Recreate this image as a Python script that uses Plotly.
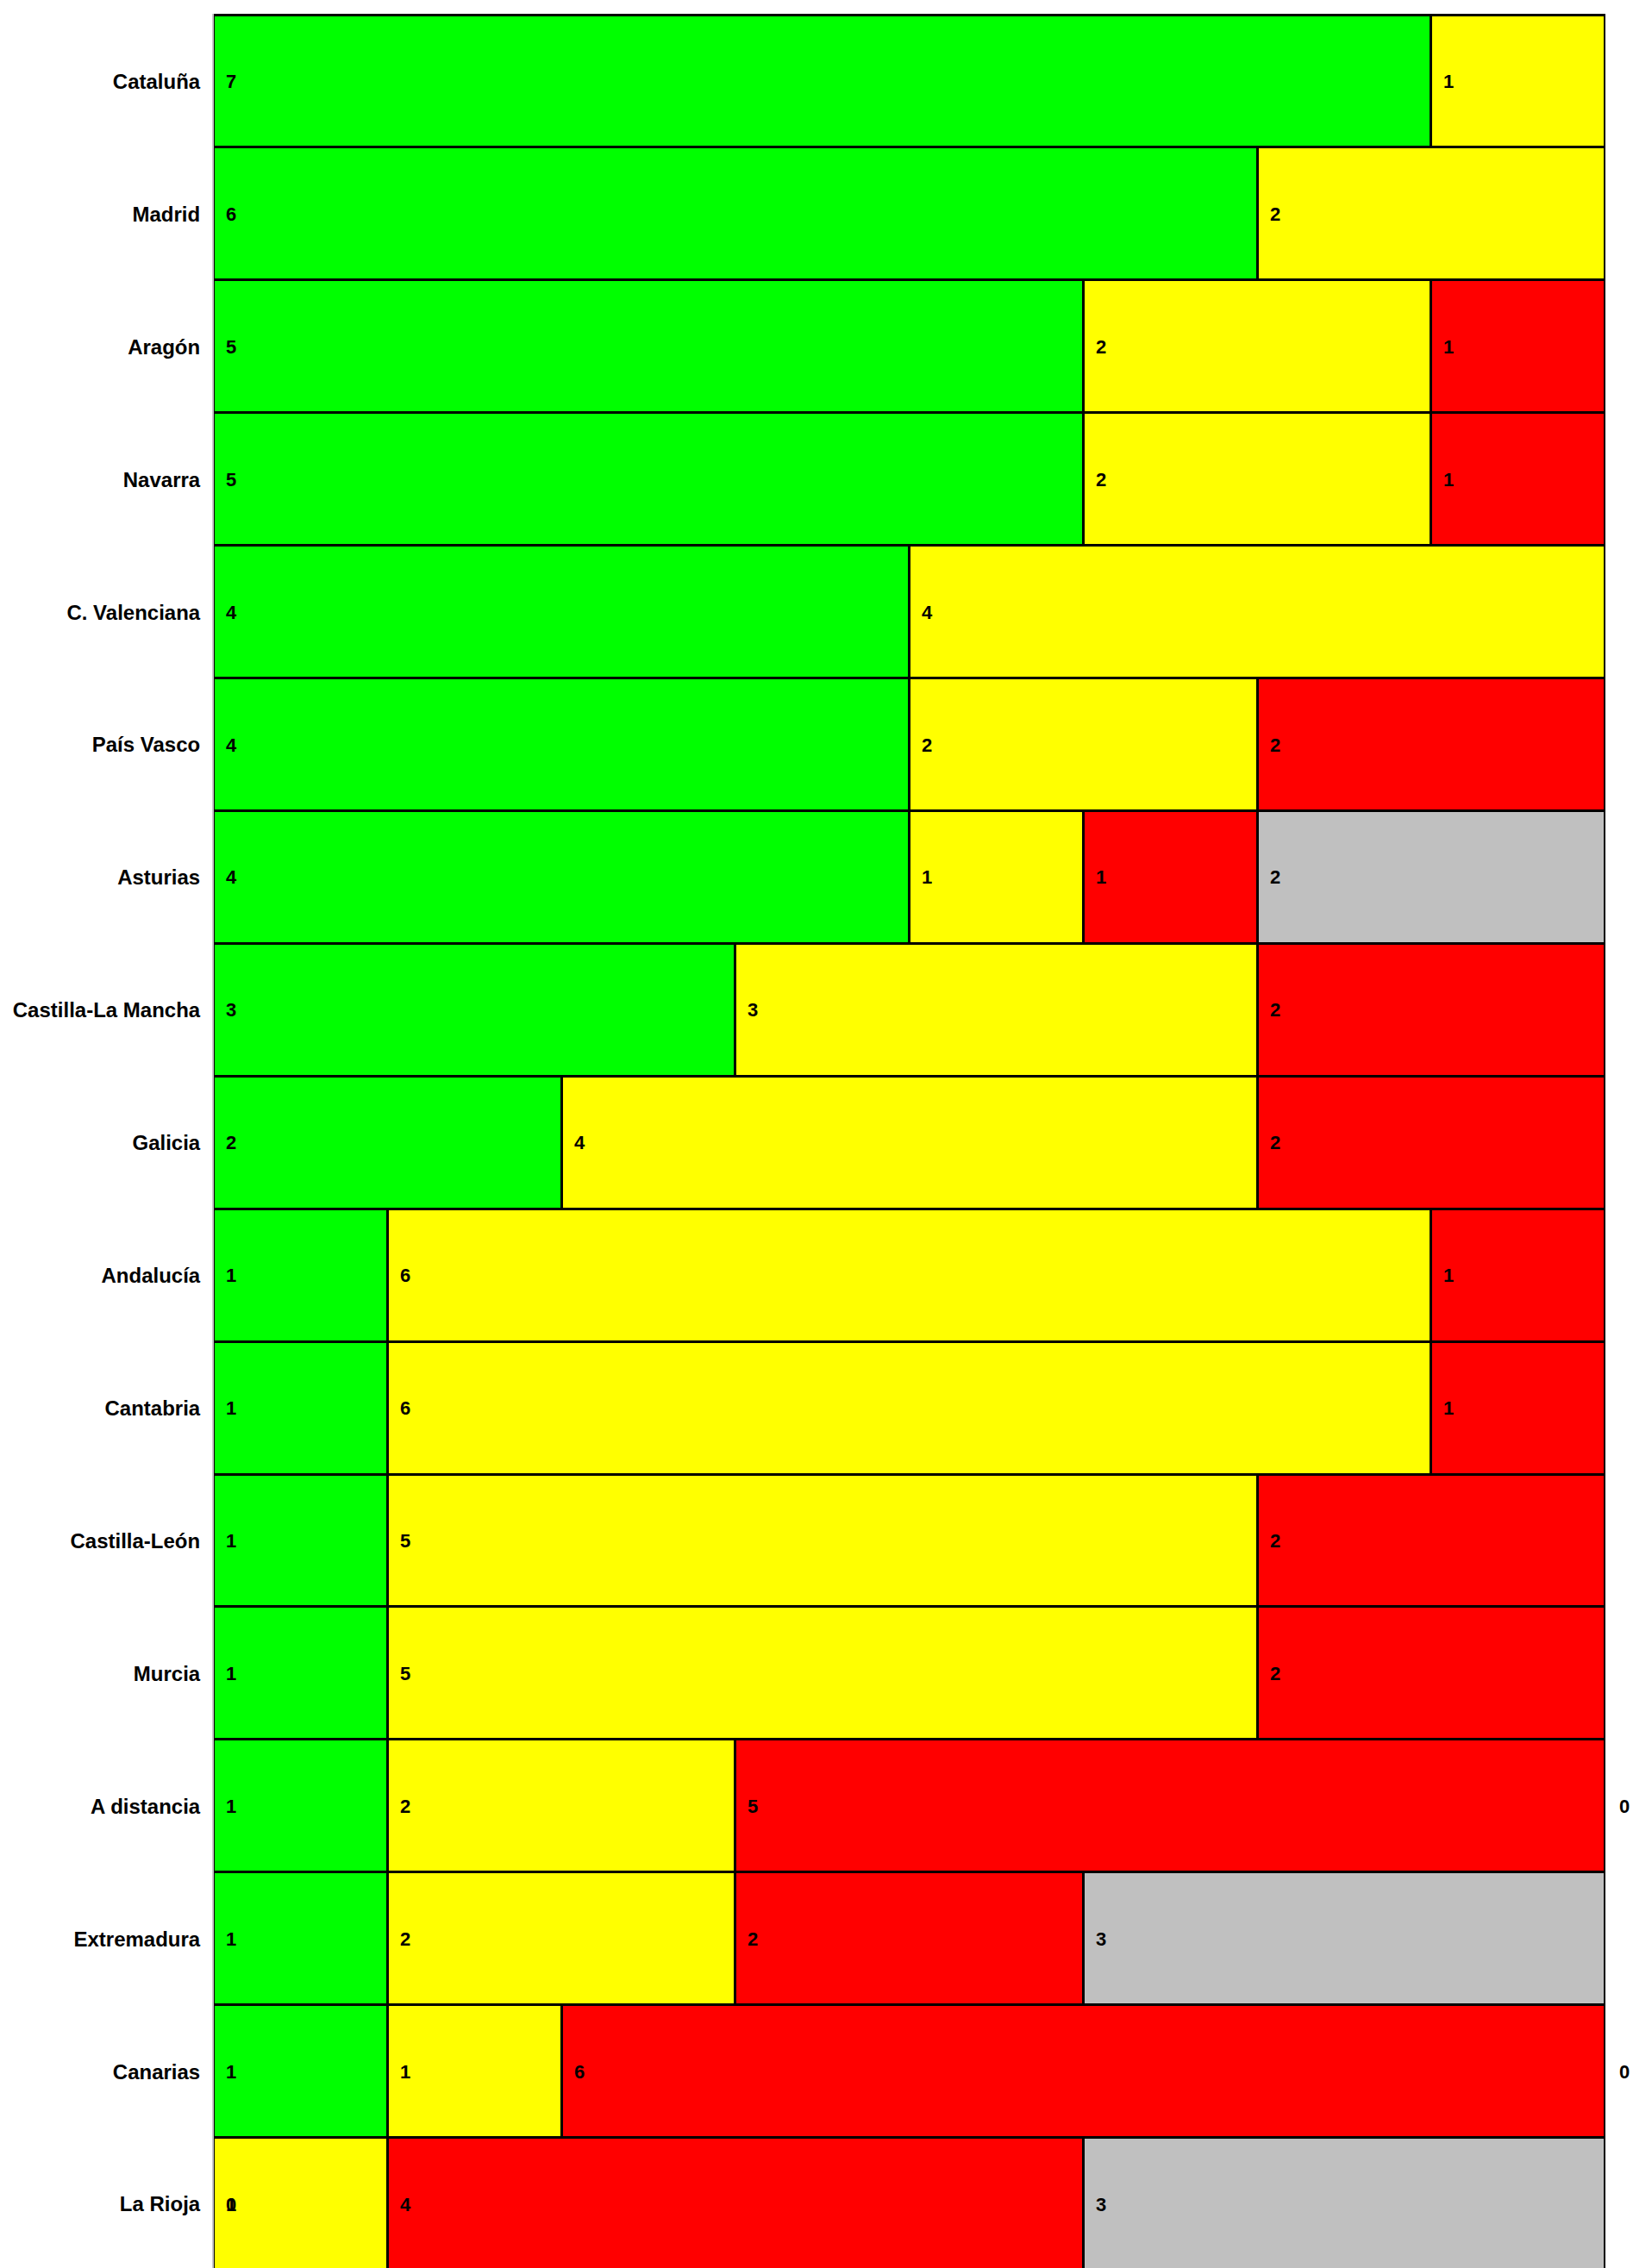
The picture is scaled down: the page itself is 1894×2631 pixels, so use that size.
import plotly.graph_objects as go

regions = ["Cataluña", "Madrid", "Aragón", "Navarra", "C. Valenciana", "País Vasco",
           "Asturias", "Castilla-La Mancha", "Galicia", "Andalucía", "Cantabria",
           "Castilla-León", "Murcia", "A distancia", "Extremadura", "Canarias", "La Rioja"]

green = [7, 6, 5, 5, 4, 4, 4, 3, 2, 1, 1, 1, 1, 1, 1, 1, 0]
yellow = [1, 2, 2, 2, 4, 2, 1, 3, 4, 6, 6, 5, 5, 2, 2, 1, 1]
red = [None, None, 1, 1, None, 2, 1, 2, 2, 1, 1, 2, 2, 5, 2, 6, 4]
gray = [None, None, None, None, None, None, 2, None, None, None, None, None, None, 0, 3, 0, 3]

series = [("green", green, "#00FF00"), ("yellow", yellow, "#FFFF00"),
          ("red", red, "#FF0000"), ("gray", gray, "#C0C0C0")]

fig = go.Figure()
for name, vals, col in series:
    fig.add_trace(go.Bar(
        y=regions, x=vals, name=name, orientation="h",
        marker=dict(color=col, line=dict(color="black", width=3)),
        hoverinfo="x+y",
    ))

# value labels at the start of each segment
annotations = []
bases = [0] * len(regions)
for name, vals, col in series:
    for i, v in enumerate(vals):
        if v is None:
            continue
        annotations.append(dict(
            x=bases[i], y=regions[i], xref="x", yref="y", text=str(v),
            showarrow=False, xanchor="left", yanchor="middle",
            xshift=14 if bases[i] >= 8 else 12,
            font=dict(family="Liberation Sans, Arial, sans-serif", size=22,
                      color="black", weight="bold"),
        ))
        bases[i] += v

fig.update_layout(
    barmode="stack", bargap=0,
    width=1894, height=2634,
    margin=dict(l=248, r=32, t=16, b=0),
    paper_bgcolor="white", plot_bgcolor="white",
    showlegend=False,
    annotations=annotations,
)
fig.update_xaxes(range=[0, 8], visible=False, showgrid=False, zeroline=False)
fig.update_yaxes(
    autorange=False, range=[16.5, -0.51], type="category",
    showgrid=False, zeroline=False, showline=True, linecolor="#C8C8C8", linewidth=2,
    ticks="", ticklabelstandoff=9,
    tickfont=dict(family="Liberation Sans, Arial, sans-serif", size=24, color="black",
                  weight="bold"),
)

fig.write_html(
    "out.html",
    config={"displayModeBar": False},
    post_script=(
        "document.documentElement.style.overflow='hidden';"
        "document.body.style.overflow='hidden';"
        "document.body.style.margin='0';"
    ),
)
